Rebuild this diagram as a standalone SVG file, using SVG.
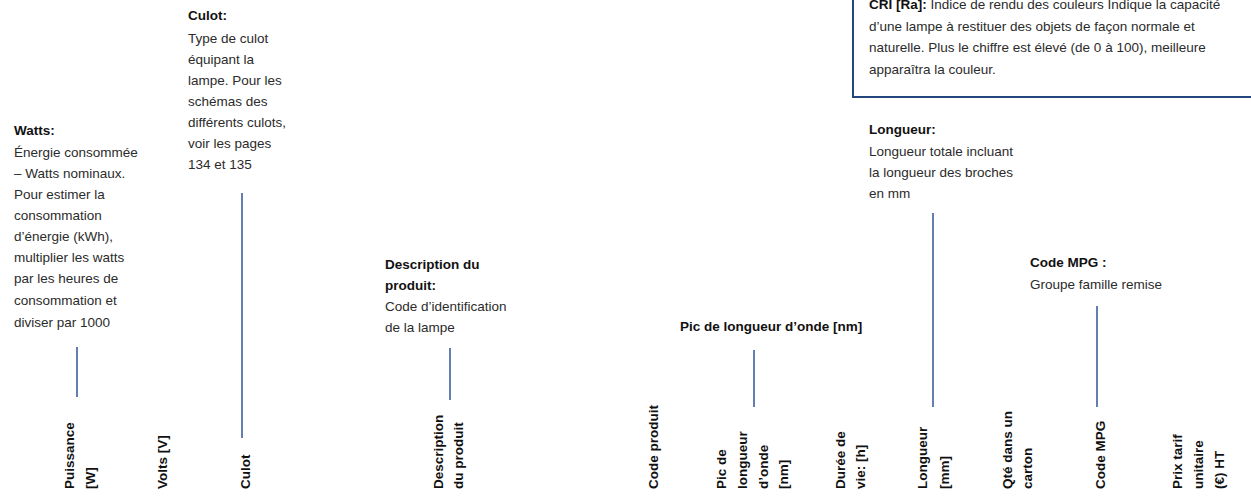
<svg xmlns="http://www.w3.org/2000/svg" width="1251" height="500" viewBox="0 0 1251 500">
<style>
.t{font-family:"Liberation Sans",Arial,sans-serif;font-size:13.5px;fill:#2b2b2b}
.b{font-weight:bold;fill:#111}
.r{font-family:"Liberation Sans",Arial,sans-serif;font-size:13.5px;font-weight:bold;fill:#111}
.ln{stroke:#2f5597;stroke-width:1.5;fill:none}
</style>
<rect width="1251" height="500" fill="#fff"/>
<g id="cri">
<path d="M1252 97 H853 V-2" fill="none" stroke="#24467f" stroke-width="2"/>
<text class="t" x="869" y="9"><tspan class="b">CRI [Ra]:</tspan> Indice de rendu des couleurs Indique la capacité</text>
<text class="t" x="869" y="31">d’une lampe à restituer des objets de façon normale et</text>
<text class="t" x="869" y="52">naturelle. Plus le chiffre est élevé (de 0 à 100), meilleure</text>
<text class="t" x="869" y="74">apparaîtra la couleur.</text>
</g>
<g id="culot">
<text class="t b" x="188" y="20">Culot:</text>
<text class="t" x="188" y="43">Type de culot</text>
<text class="t" x="188" y="64">équipant la</text>
<text class="t" x="188" y="85">lampe. Pour les</text>
<text class="t" x="188" y="106">schémas des</text>
<text class="t" x="188" y="127">différents culots,</text>
<text class="t" x="188" y="148">voir les pages</text>
<text class="t" x="188" y="169">134 et 135</text>
</g>
<g id="watts">
<text class="t b" x="14" y="135">Watts:</text>
<text class="t" x="14" y="157">Énergie consommée</text>
<text class="t" x="14" y="178">– Watts nominaux.</text>
<text class="t" x="14" y="199">Pour estimer la</text>
<text class="t" x="14" y="220">consommation</text>
<text class="t" x="14" y="241">d’énergie (kWh),</text>
<text class="t" x="14" y="262">multiplier les watts</text>
<text class="t" x="14" y="283">par les heures de</text>
<text class="t" x="14" y="305">consommation et</text>
<text class="t" x="14" y="327">diviser par 1000</text>
</g>
<g id="description">
<text class="t b" x="385" y="269">Description du</text>
<text class="t b" x="385" y="290">produit:</text>
<text class="t" x="385" y="311">Code d’identification</text>
<text class="t" x="385" y="332">de la lampe</text>
</g>
<g id="pic">
<text class="t b" x="680" y="331">Pic de longueur d’onde [nm]</text>
</g>
<g id="longueur">
<text class="t b" x="869" y="134">Longueur:</text>
<text class="t" x="869" y="156">Longueur totale incluant</text>
<text class="t" x="869" y="177">la longueur des broches</text>
<text class="t" x="869" y="198">en mm</text>
</g>
<g id="mpg">
<text class="t b" x="1030" y="267">Code MPG :</text>
<text class="t" x="1030" y="289">Groupe famille remise</text>
</g>
<g id="connectors">
<line class="ln" x1="77" y1="347" x2="77" y2="397"/>
<line class="ln" x1="242" y1="193" x2="242" y2="438" stroke="#24478f"/>
<line class="ln" x1="450" y1="348" x2="450" y2="400"/>
<line class="ln" x1="754" y1="350" x2="754" y2="407"/>
<line class="ln" x1="933" y1="213" x2="933" y2="407"/>
<line class="ln" x1="1097" y1="306" x2="1097" y2="407"/>
</g>
<g id="headers">
<text class="r" transform="translate(74,489) rotate(-90)">Puissance</text>
<text class="r" transform="translate(95,489) rotate(-90)">[W]</text>
<text class="r" transform="translate(167,489) rotate(-90)">Volts [V]</text>
<text class="r" transform="translate(250,489) rotate(-90)">Culot</text>
<text class="r" transform="translate(443,489) rotate(-90)">Description</text>
<text class="r" transform="translate(463,489) rotate(-90)">du produit</text>
<text class="r" transform="translate(658,489) rotate(-90)">Code produit</text>
<text class="r" transform="translate(726,489) rotate(-90)">Pic de</text>
<text class="r" transform="translate(747,489) rotate(-90)">longueur</text>
<text class="r" transform="translate(768,489) rotate(-90)">d’onde</text>
<text class="r" transform="translate(788,489) rotate(-90)">[nm]</text>
<text class="r" transform="translate(845,489) rotate(-90)">Durée de</text>
<text class="r" transform="translate(865,489) rotate(-90)">vie: [h]</text>
<text class="r" transform="translate(927,489) rotate(-90)">Longueur</text>
<text class="r" transform="translate(949,489) rotate(-90)">[mm]</text>
<text class="r" transform="translate(1012,489) rotate(-90)">Qté dans un</text>
<text class="r" transform="translate(1032,489) rotate(-90)">carton</text>
<text class="r" transform="translate(1105,489) rotate(-90)">Code MPG</text>
<text class="r" transform="translate(1182,489) rotate(-90)">Prix tarif</text>
<text class="r" transform="translate(1203,489) rotate(-90)">unitaire</text>
<text class="r" transform="translate(1224,489) rotate(-90)">(€) HT</text>
</g>
</svg>
